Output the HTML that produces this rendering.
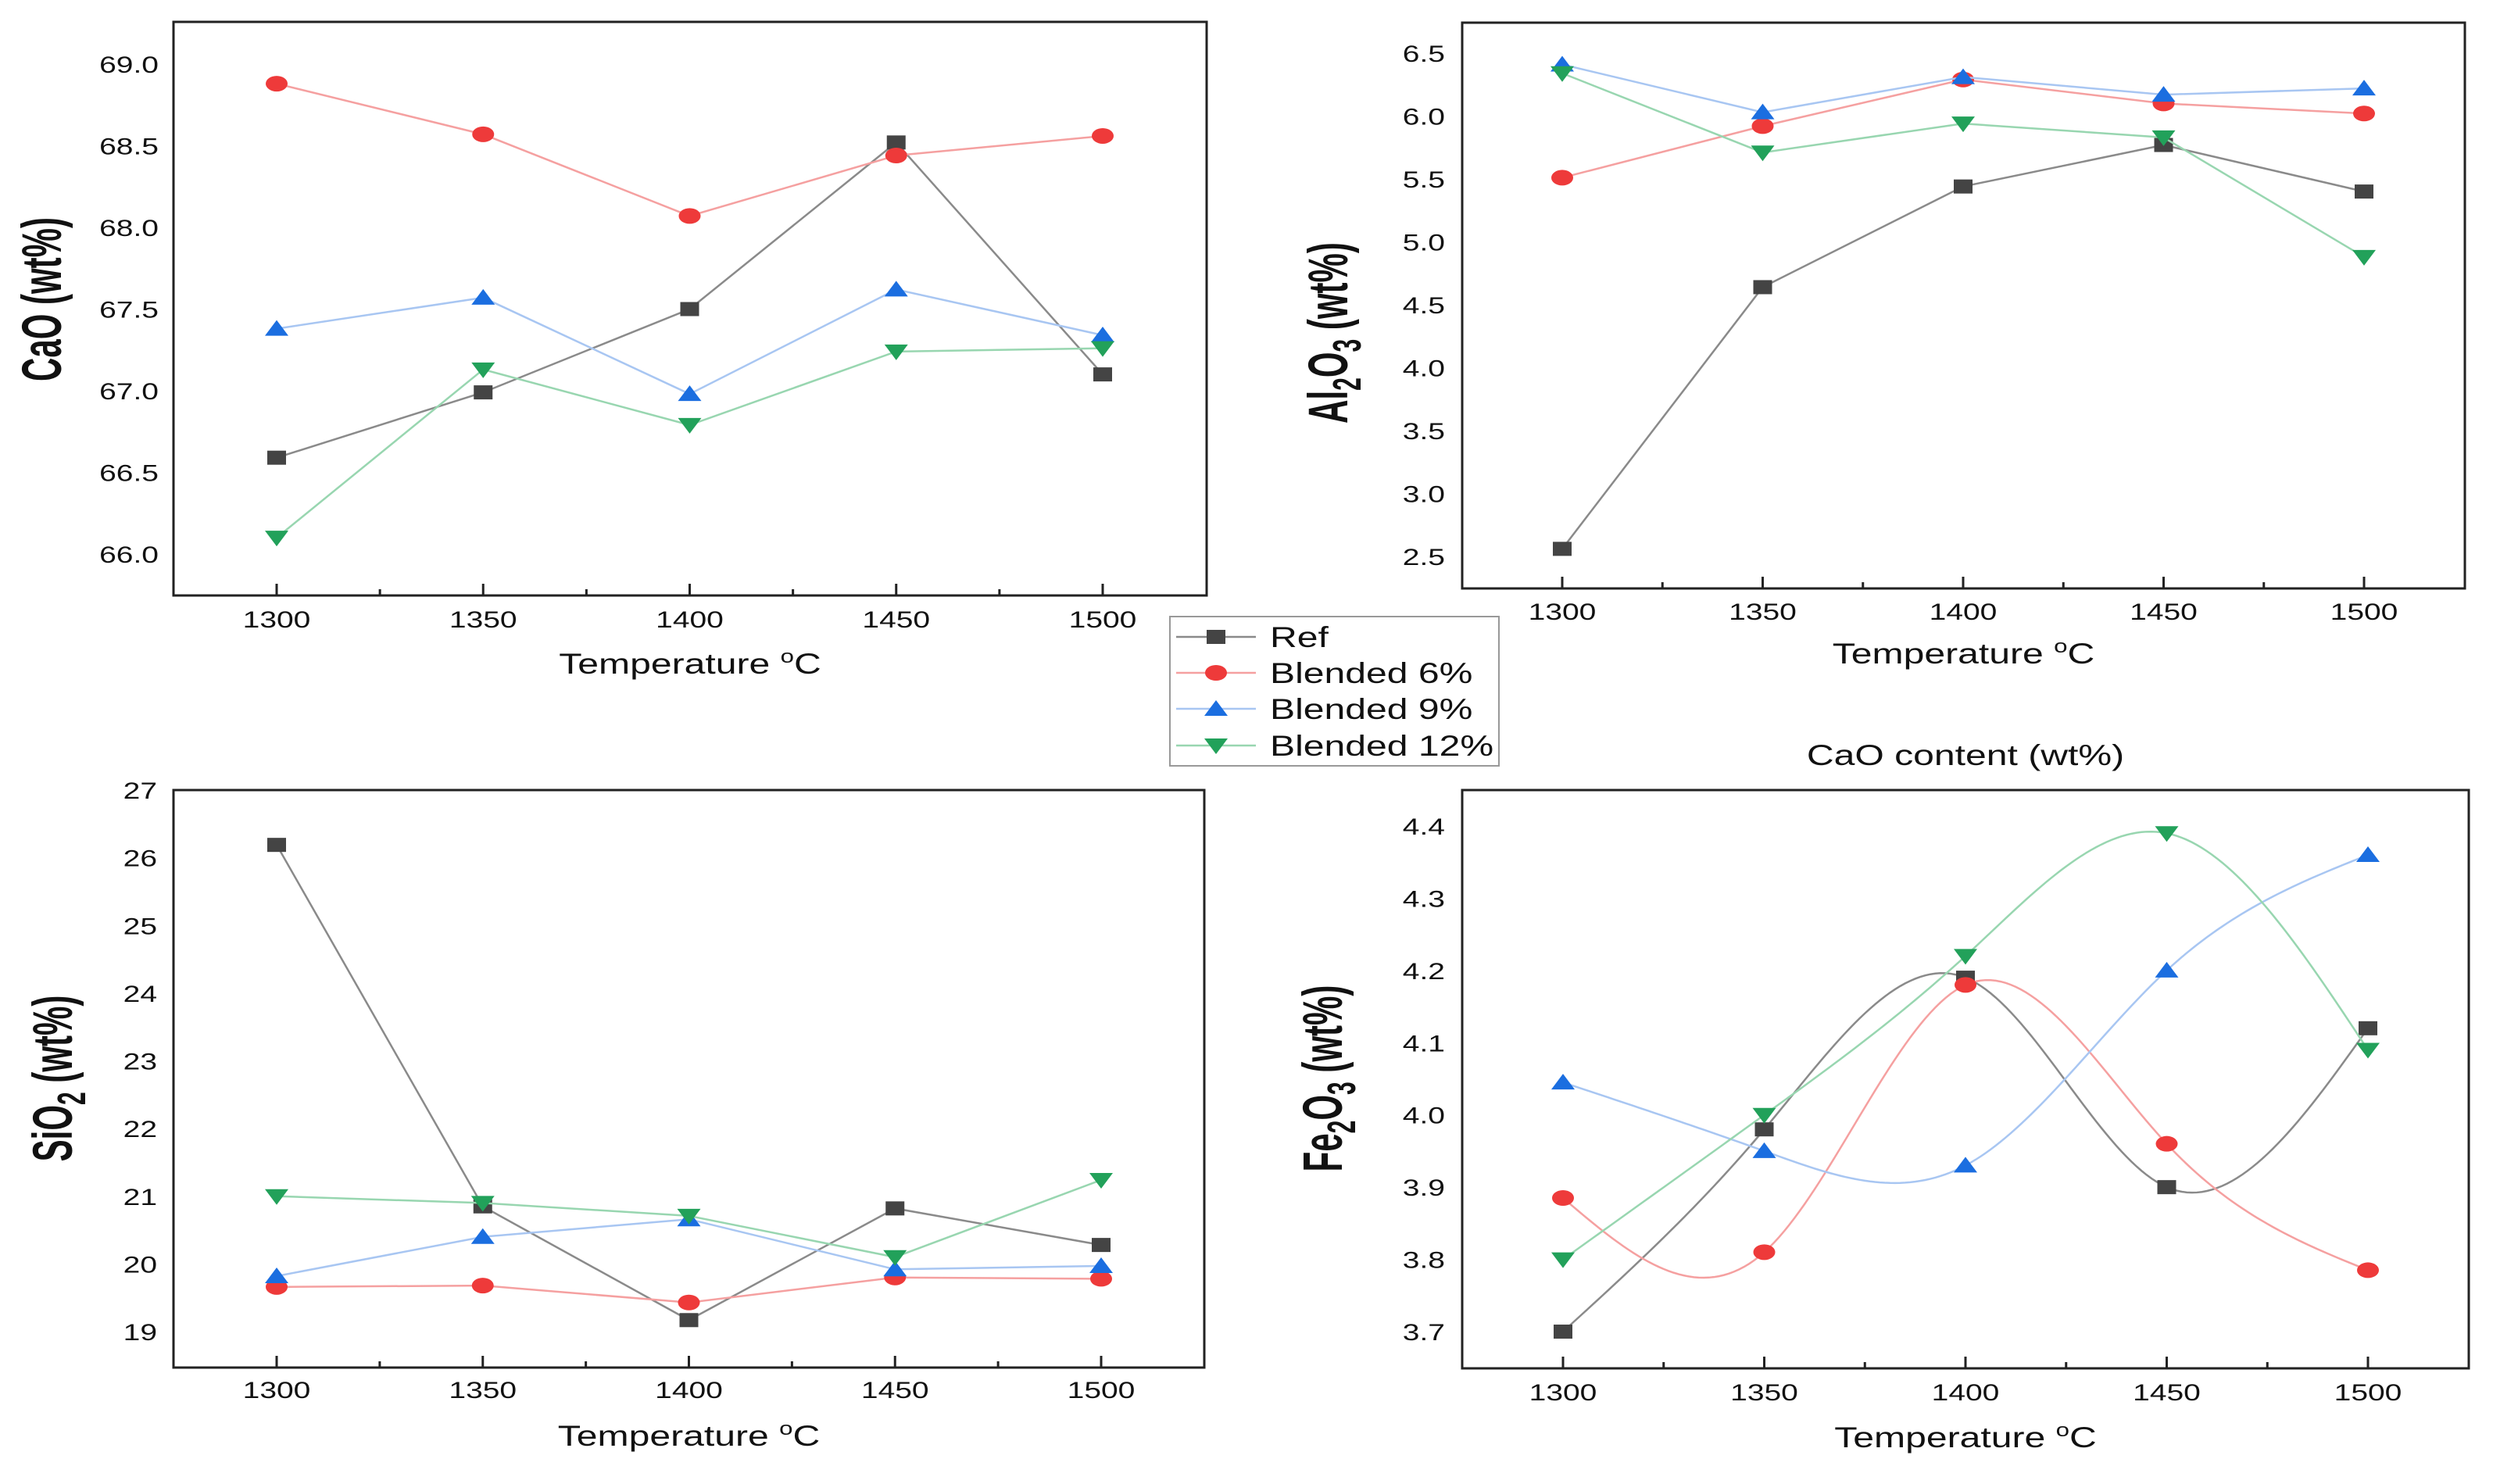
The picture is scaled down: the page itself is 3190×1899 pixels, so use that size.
<!DOCTYPE html>
<html><head><meta charset="utf-8"><style>
html,body{margin:0;padding:0;background:#fff}
svg{display:block}
text{font-family:"Liberation Sans",Arial,sans-serif;fill:#111}
</style></head><body>
<svg id="chart" width="3190" height="1899" viewBox="0 0 3190 1899" xmlns="http://www.w3.org/2000/svg"></svg>
<script>
const temps = [1300, 1350, 1400, 1450, 1500];
const seriesNames = ["Ref", "Blended 6%", "Blended 9%", "Blended 12%"];
// CaO
const caoRef = [66.59, 66.99, 67.50, 68.52, 67.10];
const caoB6 = [68.88, 68.57, 68.07, 68.44, 68.56];
const caoB9 = [67.38, 67.57, 66.98, 67.62, 67.34];
const caoB12 = [66.10, 67.13, 66.79, 67.24, 67.26];
const caoTicks = [66.0, 66.5, 67.0, 67.5, 68.0, 68.5, 69.0];
// Al2O3
const alRef = [2.56, 4.64, 5.44, 5.77, 5.40];
const alB6 = [5.51, 5.92, 6.29, 6.10, 6.02];
const alB9 = [6.41, 6.03, 6.31, 6.17, 6.22];
const alB12 = [6.34, 5.71, 5.94, 5.83, 4.88];
const alTicks = [2.5, 3.0, 3.5, 4.0, 4.5, 5.0, 5.5, 6.0, 6.5];
// SiO2
const siRef = [26.19, 20.85, 19.17, 20.82, 20.28];
const siB6 = [19.66, 19.68, 19.43, 19.80, 19.78];
const siB9 = [19.82, 20.40, 20.66, 19.92, 19.97];
const siB12 = [21.00, 20.90, 20.71, 20.10, 21.24];
const siTicks = [19, 20, 21, 22, 23, 24, 25, 26, 27];
// Fe2O3
const feRef = [3.70, 3.98, 4.19, 3.90, 4.12];
const feB6 = [3.885, 3.81, 4.18, 3.96, 3.785];
const feB9 = [4.045, 3.95, 3.93, 4.20, 4.36];
const feB12 = [3.80, 4.00, 4.22, 4.39, 4.09];
const feTicks = [3.7, 3.8, 3.9, 4.0, 4.1, 4.2, 4.3, 4.4];

const NS = "http://www.w3.org/2000/svg";
const svg = document.getElementById("chart");
const SX = 1.3;
const colors = [
  {line:"#8a8a8a", mark:"#444444"},
  {line:"#f5a0a0", mark:"#ee3a3a"},
  {line:"#a8c6f2", mark:"#1b6ee0"},
  {line:"#98d6b0", mark:"#22a15a"}
];
function el(tag, attrs, parent){
  const e = document.createElementNS(NS, tag);
  for (const k in attrs) e.setAttribute(k, attrs[k]);
  (parent||svg).appendChild(e);
  return e;
}
function txt(parent, x, y, s, size, anchor, weight){
  const t = el("text", {transform:`translate(${x},${y}) scale(${SX},1)`, "font-size":size, "text-anchor":anchor||"middle", "font-weight":weight||"normal"}, parent);
  t.textContent = s;
  return t;
}
function marker(g, kind, x, y, color){
  let m;
  if (kind===0) m = el("rect",{x:x-12,y:y-9,width:24,height:18,fill:color},g);
  else if (kind===1) m = el("ellipse",{cx:x,cy:y,rx:14,ry:10,fill:color},g);
  else if (kind===2) m = el("polygon",{points:`${x},${y-11} ${x+15},${y+9} ${x-15},${y+9}`,fill:color},g);
  else m = el("polygon",{points:`${x},${y+11} ${x+15},${y-9} ${x-15},${y-9}`,fill:color},g);
  return m;
}
function spline(xs, ys){
  const n = xs.length, h=[], a=[], l=[1], mu=[0], z=[0], c=new Array(n).fill(0), b=[], d=[];
  for (let i=0;i<n-1;i++) h.push(xs[i+1]-xs[i]);
  for (let i=1;i<n-1;i++) a[i]=3/h[i]*(ys[i+1]-ys[i])-3/h[i-1]*(ys[i]-ys[i-1]);
  for (let i=1;i<n-1;i++){ l[i]=2*(xs[i+1]-xs[i-1])-h[i-1]*mu[i-1]; mu[i]=h[i]/l[i]; z[i]=(a[i]-h[i-1]*z[i-1])/l[i]; }
  l[n-1]=1; z[n-1]=0;
  for (let j=n-2;j>=0;j--){ c[j]=z[j]-mu[j]*c[j+1]; b[j]=(ys[j+1]-ys[j])/h[j]-h[j]*(c[j+1]+2*c[j])/3; d[j]=(c[j+1]-c[j])/(3*h[j]); }
  const pts=[];
  for (let j=0;j<n-1;j++) for (let k=0;k<40;k++){ const t=h[j]*k/40; pts.push([xs[j]+t, ys[j]+b[j]*t+c[j]*t*t+d[j]*t*t*t]); }
  pts.push([xs[n-1], ys[n-1]]);
  return pts;
}
function panel(cfg){
  const g = el("g",{});
  
  
  const xS = v => cfg.x0 + (v-1300)/200*(cfg.x1-cfg.x0);
  const yS = v => cfg.ya + (v-cfg.va)/(cfg.vb-cfg.va)*(cfg.yb-cfg.ya);
  const frame = el("rect",{x:cfg.L,y:cfg.T,width:cfg.R-cfg.L,height:cfg.B-cfg.T,fill:"none",stroke:"#222",["stroke-width"]:3},g);
  
  
  for (let v=1300; v<=1500; v+=25){
    const major = v%50===0;
    el("line",{x1:xS(v),x2:xS(v),y1:cfg.B,y2:cfg.B-(major?15:8),stroke:"#222","stroke-width":3},g);
  }
  temps.forEach(v=>{
    const t = txt(g, xS(v), cfg.xl, String(v), 30);
    
    
  });
  cfg.ticks.forEach(v=>{
    const t = txt(g, cfg.yl, yS(v)+11, cfg.dec?v.toFixed(1):String(v), 30, "end");
    
    
  });
  const xt = el("text",{transform:`translate(${(cfg.L+cfg.R)/2},${cfg.xt}) scale(${SX},1)`,"font-size":37,"text-anchor":"middle"},g);
  
  
  xt.innerHTML = 'Temperature <tspan font-size="24" dy="-14">o</tspan><tspan dy="14">C</tspan>';
  const yt = el("text",{transform:`translate(${cfg.tx},${cfg.ty}) scale(1.7,1) rotate(-90)`,"font-size":42,"font-weight":"bold","text-anchor":"middle"},g);
  
  
  yt.innerHTML = cfg.title;
  cfg.series.forEach((vals, si)=>{
    const sg = el("g",{},g);
    
    
    let pts;
    if (cfg.smooth) pts = spline(temps, vals).map(p=>[xS(p[0]), yS(p[1])]);
    else pts = temps.map((t,i)=>[xS(t), yS(vals[i])]);
    const line = el("polyline",{points:pts.map(p=>p.join(",")).join(" "),fill:"none",stroke:colors[si].line,"stroke-width":2.5},sg);
    
    
    temps.forEach((t,i)=>{
      const m = marker(sg, si, xS(t), yS(vals[i]), colors[si].mark);
      
      
    });
  });
}
panel({name:"cao-panel",L:222,R:1544,T:28,B:762,x0:354,x1:1411,va:69.0,ya:82,vb:66.0,yb:709,ticks:caoTicks,dec:true,yl:203,xl:803,xt:862,tx:78,ty:383,
  title:'CaO (wt%)',series:[caoRef,caoB6,caoB9,caoB12]});
panel({name:"al2o3-panel",L:1871,R:3154,T:29,B:753,x0:1999,x1:3025,va:6.5,ya:68,vb:2.5,yb:712,ticks:alTicks,dec:true,yl:1849,xl:793,xt:849,tx:1724,ty:426,
  title:'Al<tspan font-size="30" dy="10">2</tspan><tspan dy="-10">O</tspan><tspan font-size="30" dy="10">3</tspan><tspan dy="-10"> (wt%)</tspan>',series:[alRef,alB6,alB9,alB12]});
panel({name:"sio2-panel",L:222,R:1541,T:1011,B:1750,x0:354,x1:1409,va:27,ya:1011,vb:19,yb:1704,ticks:siTicks,dec:false,yl:201,xl:1789,xt:1850,tx:92,ty:1380,
  title:'SiO<tspan font-size="30" dy="10">2</tspan><tspan dy="-10"> (wt%)</tspan>',series:[siRef,siB6,siB9,siB12]});
panel({name:"fe2o3-panel",L:1871,R:3159,T:1011,B:1751,x0:2000,x1:3030,va:4.4,ya:1057,vb:3.7,yb:1704,ticks:feTicks,dec:true,yl:1849,xl:1792,xt:1852,tx:1717,ty:1380,smooth:true,
  title:'Fe<tspan font-size="30" dy="10">2</tspan><tspan dy="-10">O</tspan><tspan font-size="30" dy="10">3</tspan><tspan dy="-10"> (wt%)</tspan>',series:[feRef,feB6,feB9,feB12]});

const hdr = txt(svg, 2515, 979, "CaO content (wt%)", 37);



const lg = el("g",{});


el("rect",{x:1497,y:789,width:421,height:191,fill:"#fff",stroke:"#999","stroke-width":2},lg);
const legY = [815, 861, 907, 954];
seriesNames.forEach((n,i)=>{
  const eg = el("g",{},lg);
  
  
  el("line",{x1:1505,x2:1607,y1:legY[i],y2:legY[i],stroke:colors[i].line,"stroke-width":2.5},eg);
  marker(eg, i, 1556, legY[i], colors[i].mark);
  txt(eg, 1625, legY[i]+13, n, 37, "start");
});
</script>
</body></html>
